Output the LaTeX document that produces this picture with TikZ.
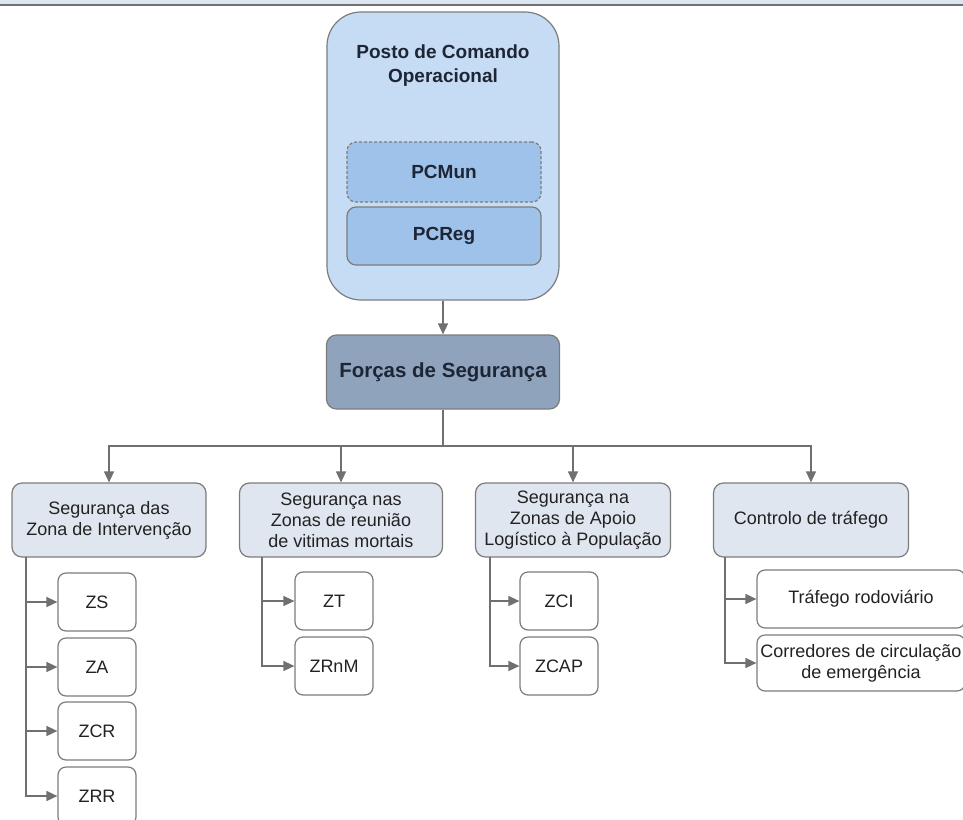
\documentclass[tikz,border=0pt]{standalone}
\usepackage{fontspec}
\setmainfont{Liberation Sans}
\usetikzlibrary{arrows.meta}

\definecolor{topband}{HTML}{DCE6F2}
\definecolor{pocblue}{HTML}{C6DCF4}
\definecolor{pcblue}{HTML}{9EC2EA}
\definecolor{fsblue}{HTML}{8FA3BD}
\definecolor{catgray}{HTML}{DFE6EF}
\definecolor{linegray}{HTML}{707070}
\definecolor{boxline}{HTML}{7C7C7C}
\definecolor{inktext}{HTML}{1E2636}
\definecolor{plaintext}{HTML}{222222}

\tikzset{
  bigbox/.style={draw=boxline, line width=1.2pt, fill=pocblue, rounded corners=34pt},
  titletext/.style={align=center, text=inktext, font=\bfseries\fontsize{19}{24}\selectfont},
  pcbox/.style={draw=boxline, line width=1.2pt, fill=pcblue, rounded corners=9pt, minimum width=194, inner sep=0pt, text=inktext, font=\bfseries\fontsize{19}{24}\selectfont},
  fsbox/.style={draw=boxline, line width=1.2pt, fill=fsblue, rounded corners=10pt, minimum width=233, minimum height=74, inner sep=0pt, text=inktext, font=\bfseries\fontsize{20.5}{24}\selectfont},
  catbox/.style={draw=boxline, line width=1.2pt, fill=catgray, rounded corners=10pt, minimum height=74, inner sep=0pt, align=center, text=plaintext, font=\fontsize{18}{21}\selectfont},
  leafbox/.style={draw=boxline, line width=1.2pt, fill=white, rounded corners=8pt, minimum width=78, minimum height=58, inner sep=0pt, align=center, text=plaintext, font=\fontsize{18}{21}\selectfont},
  wire/.style={draw=linegray, line width=1.5pt},
  conn/.style={wire, -{Triangle[length=11pt,width=10pt]}}
}

\begin{document}
\begin{tikzpicture}[x=1pt, y=-1pt]
\useasboundingbox (0,0) rectangle (963,819);
\fill[topband] (0,0) rectangle (963,4);
\draw[linegray, line width=2.5pt] (0,5) -- (963,5);

% command post
\node[bigbox, minimum width=232, minimum height=288] (poc) at (443,156) {};
\node[titletext] (poctitle) at (443,66) {Posto de Comando\\Operacional};
\node[pcbox, dash pattern=on 3pt off 2pt, minimum height=60] (pcmun) at (444,172) {PCMun};
\node[pcbox, minimum height=58] (pcreg) at (444,236) {PCReg};

\node[fsbox] (forcas) at (443,372) {Forças de Segurança};
\draw[conn] (poc) -- (forcas);

% categories
\node[catbox, minimum width=194] (cat1) at (109,520) {Segurança das\\Zona de Intervenção};
\node[catbox, minimum width=203] (cat2) at (341,520) {Segurança nas\\Zonas de reunião\\de vitimas mortais};
\node[catbox, minimum width=195] (cat3) at (573,520) {Segurança na\\Zonas de Apoio\\Logístico à População};
\node[catbox, minimum width=195] (cat4) at (811,520) {Controlo de tráfego};

\coordinate (bus) at (443,446);
\draw[wire] (forcas) -- (bus);
\draw[conn] (bus) -| (cat1);
\draw[conn] (bus) -| (cat2);
\draw[conn] (bus) -| (cat3);
\draw[conn] (bus) -| (cat4);

% leaves
\node[leafbox] (zs) at (97,602) {ZS};
\node[leafbox] (za) at (97,667) {ZA};
\node[leafbox] (zcr) at (97,731) {ZCR};
\node[leafbox] (zrr) at (97,796) {ZRR};

\node[leafbox] (zt) at (334,601) {ZT};
\node[leafbox] (zrnm) at (334,666) {ZRnM};

\node[leafbox] (zci) at (559,601) {ZCI};
\node[leafbox] (zcap) at (559,666) {ZCAP};

\node[leafbox, minimum width=208] (trafego) at (861,599) {Tráfego rodoviário};
\node[leafbox, minimum width=208, minimum height=56] (corredores) at (861,663) {Corredores de circulação\\de emergência};

\coordinate (t1) at (26,557);
\coordinate (t2) at (262,557);
\coordinate (t3) at (490,557);
\coordinate (t4) at (725,557);

\draw[conn] (t1) |- (zs);
\draw[conn] (t1) |- (za);
\draw[conn] (t1) |- (zcr);
\draw[conn] (t1) |- (zrr);
\draw[conn] (t2) |- (zt);
\draw[conn] (t2) |- (zrnm);
\draw[conn] (t3) |- (zci);
\draw[conn] (t3) |- (zcap);
\draw[conn] (t4) |- (trafego);
\draw[conn] (t4) |- (corredores);
\end{tikzpicture}
\end{document}
